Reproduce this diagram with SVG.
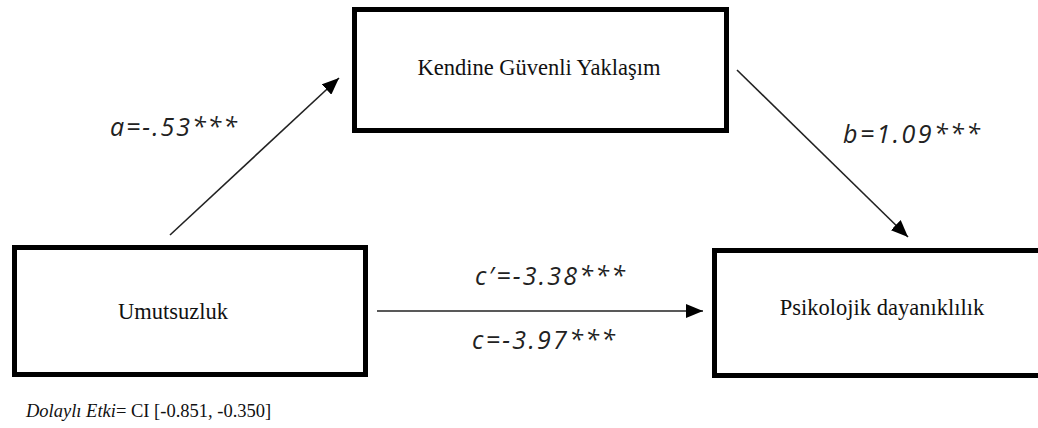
<svg xmlns="http://www.w3.org/2000/svg" width="1038" height="428" viewBox="0 0 1038 428">
<style>
.box{fill:#fff;stroke:#000;stroke-width:5}
.lbl{font-family:"Liberation Serif","Times New Roman",serif;font-size:22.5px;fill:#111;text-anchor:middle}
.coef{font-family:"Open Sans","Noto Sans",sans-serif;font-style:italic;font-size:25px;fill:#222}
.conn{stroke:#222;stroke-width:1.6;fill:none;marker-end:url(#ah)}
.note{font-family:"Liberation Serif","Times New Roman",serif;font-size:18.5px;fill:#111}
</style>
<defs>
<marker id="ah" markerUnits="userSpaceOnUse" markerWidth="18" markerHeight="14" refX="17" refY="7" orient="auto">
<path d="M0,0 L17,7 L0,14 Z" fill="#000"/>
</marker>
</defs>
<rect width="1038" height="428" fill="#fff"/>
<g id="connectors">
<line class="conn" x1="170" y1="235" x2="339" y2="78"/>
<line class="conn" x1="737" y1="70" x2="908" y2="237"/>
<line class="conn" x1="377" y1="311" x2="703" y2="311"/>
</g>
<g id="node-kendine">
<rect class="box" x="354.5" y="9.5" width="372" height="121"/>
<text class="lbl" x="539" y="75">Kendine Güvenli Yaklaşım</text>
</g>
<g id="node-umutsuzluk">
<rect class="box" x="14.5" y="247.5" width="351" height="127"/>
<text class="lbl" x="173" y="319">Umutsuzluk</text>
</g>
<g id="node-psikolojik">
<rect class="box" x="714.5" y="250.5" width="340" height="125"/>
<text class="lbl" x="882" y="315">Psikolojik dayanıklılık</text>
</g>
<g id="labels">
<text class="coef" x="110" y="136" textLength="127" lengthAdjust="spacing">a=-.53***</text>
<text class="coef" x="843" y="143" textLength="137" lengthAdjust="spacing">b=1.09***</text>
<text class="coef" x="475" y="285" textLength="150" lengthAdjust="spacing">c′=-3.38***</text>
<text class="coef" x="472" y="349" textLength="143" lengthAdjust="spacing">c=-3.97***</text>
<text class="note" x="26" y="417"><tspan font-style="italic">Dolaylı Etki</tspan>= CI [-0.851, -0.350]</text>
</g>
</svg>
